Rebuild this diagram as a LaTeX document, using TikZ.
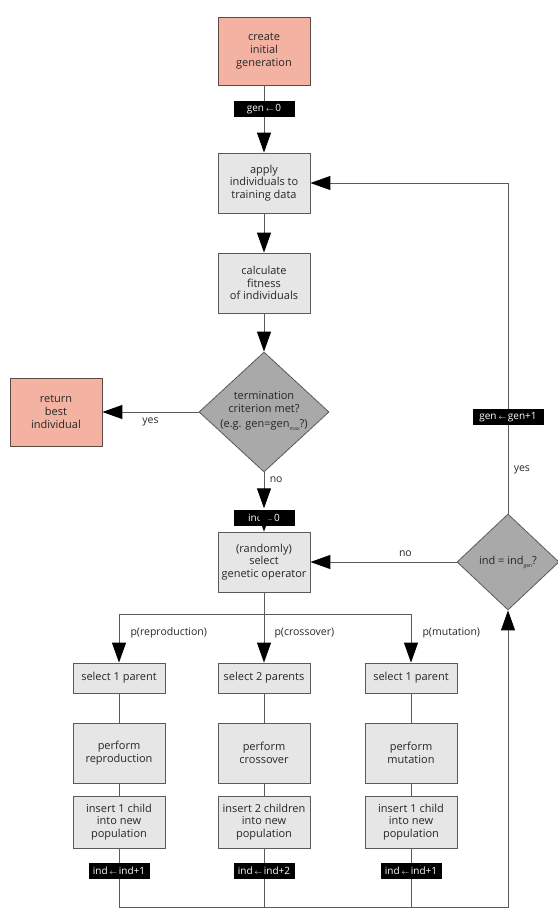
\documentclass[tikz,border=0pt]{standalone}
\usepackage{fontspec}
\setmainfont{Open Sans}
\usetikzlibrary{shapes.geometric,arrows.meta}
\definecolor{salmon}{HTML}{F4B3A2}
\definecolor{salmonedge}{HTML}{5E4A44}
\definecolor{boxgray}{HTML}{E6E6E6}
\definecolor{dgray}{HTML}{A9A9A9}
\definecolor{lgray}{HTML}{5A5A5A}
\definecolor{txt}{HTML}{262626}
\newcommand{\la}{\,{\fontsize{7}{7}\selectfont$\leftarrow$}\,}
\newcommand{\tinysub}[1]{\raisebox{-3pt}{\fontsize{5}{5}\selectfont #1}}
\tikzset{
  proc/.style={draw=lgray, fill=boxgray, minimum width=92pt, minimum height=60pt,
    align=center, text=txt, font=\fontsize{11}{12.7}\selectfont, inner sep=0pt, line width=0.8pt},
  startbox/.style={proc, fill=salmon, draw=salmonedge, minimum height=68pt},
  smallbox/.style={proc, minimum height=30pt},
  insbox/.style={proc, minimum height=52pt},
  dec/.style={diamond, draw=lgray, fill=dgray, inner sep=0pt, line width=0.8pt},
  dectext/.style={align=center, text=txt, font=\fontsize{11}{12.7}\selectfont},
  tag/.style={fill=black, text=white, font=\fontsize{10}{11}\selectfont, inner sep=1.5pt,
    minimum height=16pt, minimum width=61pt},
  lbl/.style={text=txt, font=\fontsize{10.5}{12}\selectfont},
  conn/.style={draw=lgray, line width=0.9pt},
  arr/.style={conn, -{Triangle[length=20pt,width=14pt,color=black]}}
}
\begin{document}
\begin{tikzpicture}[x=1pt,y=-1pt]
\useasboundingbox (0,0) rectangle (557,918);
% nodes
\node[startbox] (create) at (264,51) {create\\initial\\generation};
\node[tag] (gen0) at (264,109) {gen\la 0};
\node[proc] (apply) at (264,183) {apply\\individuals to\\training data};
\node[proc] (calc) at (264,283) {calculate\\fitness\\of individuals};
\node[dec, minimum width=130pt, minimum height=120pt] (term) at (264,412) {};
\node[dectext] at (264,411) {termination\\criterion met?\\[2pt](e.g. gen=gen\tinysub{max}?)};
\node[startbox] (ret) at (56,412) {return\\best\\individual};
\node[tag] (ind0) at (264,518) {ind\la 0};
\node[proc] (select) at (264,562) {(randomly)\\select\\genetic operator};
\node[dec, minimum width=102pt, minimum height=96pt] (indq) at (508,562) {};
\node[dectext] at (508,562) {ind = ind\tinysub{gen}?};
\node[tag, minimum width=71pt] (incgen) at (508,417) {gen\la gen+1};
\coordinate (br) at (264,614);
\node[smallbox] (sel1) at (119,678) {select 1 parent};
\node[smallbox] (sel2) at (264,678) {select 2 parents};
\node[smallbox] (sel3) at (411,678) {select 1 parent};
\node[proc] (perf1) at (119,753) {perform\\reproduction};
\node[proc] (perf2) at (264,753) {perform\\crossover};
\node[proc] (perf3) at (411,753) {perform\\mutation};
\node[insbox] (ins1) at (119,822) {insert 1 child\\into new\\population};
\node[insbox] (ins2) at (264,822) {insert 2 children\\into new\\population};
\node[insbox] (ins3) at (411,822) {insert 1 child\\into new\\population};
\node[tag] (inc1) at (119,871) {ind\la ind+1};
\node[tag] (inc2) at (264,871) {ind\la ind+2};
\node[tag] (inc3) at (411,871) {ind\la ind+1};
\coordinate (b1) at (119,907);
\coordinate (b2) at (264,907);
\coordinate (b3) at (411,907);
\coordinate (bend) at (508,907);
% connectors
\draw[conn] (create) -- (gen0);
\draw[arr] (gen0) -- (apply);
\draw[arr] (apply) -- (calc);
\draw[arr] (calc) -- (term);
\draw[arr] (term.west) -- (ret.east) node[lbl, midway, below=2pt] {yes};
\draw[arr] (term.south) -- ([yshift=1.5pt]ind0.north) node[lbl, pos=0.2, right=2pt] {no};
\draw[arr] (ind0) -- (select);
\draw[conn] (select) -- (br);
\draw[arr] (br) -| (sel1);
\draw[arr] (br) -- (sel2);
\draw[arr] (br) -| (sel3);
\draw[conn] (sel1) -- (perf1); \draw[conn] (perf1) -- (ins1); \draw[conn] (ins1) -- (inc1);
\draw[conn] (sel2) -- (perf2); \draw[conn] (perf2) -- (ins2); \draw[conn] (ins2) -- (inc2);
\draw[conn] (sel3) -- (perf3); \draw[conn] (perf3) -- (ins3); \draw[conn] (ins3) -- (inc3);
\draw[conn] (inc2) -- (b2);
\draw[conn] (inc3) -- (b3);
\draw[arr] (inc1) -- (b1) -- (bend) -- (indq.south);
\draw[arr] (indq.west) -- (select.east) node[lbl, pos=0.35, above=2pt] {no};
\draw[conn] (indq.north) -- (incgen.south) node[lbl, midway, right=2pt] {yes};
\draw[arr] (incgen.north) |- (apply.east);
% branch labels
\node[lbl, anchor=west] at (127,633) {p(reproduction)};
\node[lbl, anchor=west] at (271,633) {p(crossover)};
\node[lbl, anchor=west] at (419,633) {p(mutation)};
\end{tikzpicture}
\end{document}
